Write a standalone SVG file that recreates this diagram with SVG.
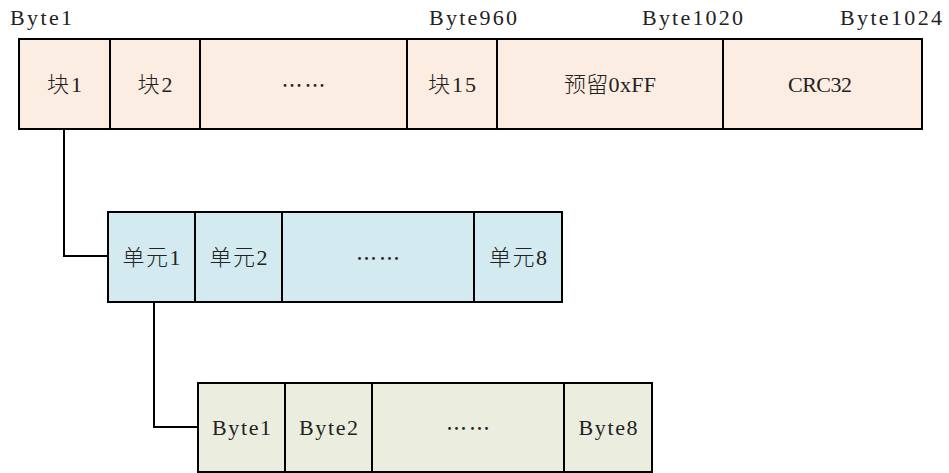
<svg xmlns="http://www.w3.org/2000/svg" width="949" height="473" viewBox="0 0 949 473">
  <style>
    .t { font-family: "Liberation Serif", "Noto Sans CJK SC", serif; font-size: 22px; font-weight: 300; fill: #222; }
    .e { font-family: "Noto Sans CJK SC", sans-serif; font-size: 21px; fill: #222; }
    .c { text-anchor: middle; dominant-baseline: central; }
    .box { stroke: #000; stroke-width: 2; }
    .top { fill: #FCEDE2; }
    .mid { fill: #D3EAF0; }
    .bot { fill: #EBEEDF; }
    .div { stroke: #000; stroke-width: 2; fill: none; }
    .conn { stroke: #000; stroke-width: 2; fill: none; }
  </style>
  <rect width="949" height="473" fill="#fff"/>

  <g id="byte-labels">
    <text class="t" x="10" y="25" textLength="62" lengthAdjust="spacing">Byte1</text>
    <text class="t" x="429" y="25" textLength="88" lengthAdjust="spacing">Byte960</text>
    <text class="t" x="642" y="25" textLength="101" lengthAdjust="spacing">Byte1020</text>
    <text class="t" x="840" y="25" textLength="102" lengthAdjust="spacing">Byte1024</text>
  </g>

  <g id="frame">
    <rect class="box top" x="19" y="39" width="903" height="90"/>
    <path class="div" d="M110 39V129M200 39V129M407 39V129M497 39V129M723 39V129"/>
    <text class="t c" x="64.5" y="84" textLength="35" lengthAdjust="spacing">块1</text>
    <text class="t c" x="155" y="84" textLength="35" lengthAdjust="spacing">块2</text>
    <text class="e c" x="303.5" y="84" textLength="44" lengthAdjust="spacing">……</text>
    <text class="t c" x="452" y="84" textLength="48" lengthAdjust="spacing">块15</text>
    <text class="t c" x="610" y="84" textLength="92" lengthAdjust="spacing">预留0xFF</text>
    <text class="t c" x="820" y="84" textLength="64" lengthAdjust="spacing">CRC32</text>
  </g>

  <g id="block">
    <rect class="box mid" x="108" y="212" width="454" height="90"/>
    <path class="div" d="M195 212V302M282 212V302M474 212V302"/>
    <text class="t c" x="151.5" y="257" textLength="58" lengthAdjust="spacing">单元1</text>
    <text class="t c" x="238.5" y="257" textLength="58" lengthAdjust="spacing">单元2</text>
    <text class="e c" x="378" y="257" textLength="44" lengthAdjust="spacing">……</text>
    <text class="t c" x="518" y="257" textLength="58" lengthAdjust="spacing">单元8</text>
  </g>

  <g id="unit">
    <rect class="box bot" x="198" y="383" width="454" height="89"/>
    <path class="div" d="M285 383V472M372 383V472M564 383V472"/>
    <text class="t c" x="241.5" y="427" textLength="59" lengthAdjust="spacing">Byte1</text>
    <text class="t c" x="328.5" y="427" textLength="59" lengthAdjust="spacing">Byte2</text>
    <text class="e c" x="468" y="427" textLength="44" lengthAdjust="spacing">……</text>
    <text class="t c" x="608" y="427" textLength="59" lengthAdjust="spacing">Byte8</text>
  </g>

  <g id="connectors">
    <path class="conn" d="M64 129V256H108"/>
    <path class="conn" d="M154 302V427H198"/>
  </g>
</svg>
